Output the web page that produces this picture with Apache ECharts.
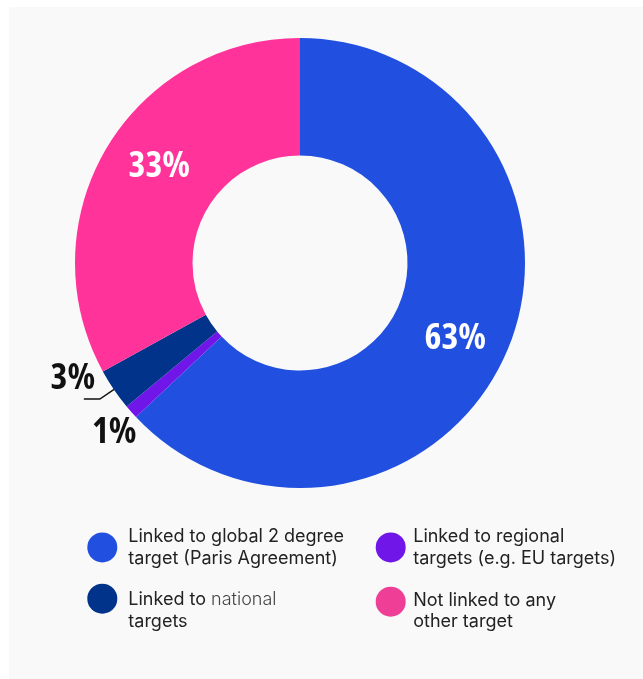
<!DOCTYPE html>
<html>
<head>
<meta charset="utf-8">
<script src="https://cdn.jsdelivr.net/npm/echarts@6/dist/echarts.min.js"></script>
<style>
  html, body { margin: 0; padding: 0; background: #ffffff; }
  #chart { position: absolute; left: 9px; top: 7px; width: 634px; height: 672px; background: #f9f9f9; }
</style>
</head>
<body>
<div id="chart"></div>
<script>
// Target linkage of the reported climate goals (share of companies, %)
const categories = [
  'Linked to global 2 degree target (Paris Agreement)',
  'Linked to regional targets (e.g. EU targets)',
  'Linked to national targets',
  'Not linked to any other target'
];
const shares = [63, 1, 3, 33];
const sliceColors = ['#2150e0', '#7016e8', '#003389', '#ff3399'];

// Legend text, split into the two lines shown next to each dot
const legendLines = [
  '{t|Linked to global 2 degree}\n{t|target (Paris Agreement)}',
  '{t|Linked to regional}\n{t|targets (e.g. EU targets)}',
  '{t|Linked to }{l|national}\n{t|targets}',
  '{t|Not linked to any}\n{t|other target}'
];

const legendRich = {
  t: { fontFamily: 'Inter, Roboto, sans-serif', fontSize: 18, color: '#222222', lineHeight: 21.5 },
  l: { fontFamily: 'Inter, Roboto, sans-serif', fontSize: 18, fontWeight: 300, color: '#444444', lineHeight: 21.5 }
};

const chart = echarts.init(document.getElementById('chart'));

// condensed bold face for the percentage figures
const pctFont = "'Open Sans', 'Roboto Condensed', sans-serif";
const pctWeight = 'bold condensed';

function legendFormatter(name) {
  return legendLines[categories.indexOf(name)];
}

// one legend block per entry: category index, left, top, icon box width, space above the text
function makeLegend(idx, left, top, iconBox, padTop, iconColor) {
  const entry = { name: categories[idx] };
  if (iconColor) entry.itemStyle = { color: iconColor };
  return {
    data: [entry],
    orient: 'vertical',
    left: left,
    top: top,
    padding: 0,
    itemWidth: iconBox,
    itemHeight: 30,
    icon: 'circle',
    selectedMode: false,
    formatter: legendFormatter,
    textStyle: { rich: legendRich, padding: [padTop, 0, 0, 0] }
  };
}

chart.setOption({
  backgroundColor: 'transparent',
  animation: false,
  color: sliceColors,
  legend: [
    makeLegend(0, 78.3, 520.7, 42, 0),
    makeLegend(1, 366.7, 520.7, 35, 0),
    makeLegend(2, 78.3, 576.7, 42, 23.6),
    makeLegend(3, 366.7, 579.7, 35, 19.1, '#ee3e95')
  ],
  series: [{
    type: 'pie',
    center: [291, 256],
    radius: [107.5, 225],
    startAngle: 90,
    clockwise: true,
    avoidLabelOverlap: false,
    label: {
      show: true,
      position: 'inside',
      formatter: '{c}%',
      color: '#ffffff',
      fontFamily: pctFont,
      fontWeight: pctWeight,
      fontSize: 36
    },
    labelLine: { show: false },
    emphasis: { disabled: true },
    data: shares.map(function (v, i) {
      const item = { name: categories[i], value: v };
      if (i === 1 || i === 2) {
        item.label = { position: 'outside', color: '#111111' };
        item.labelLine = {
          show: true,
          length: 17,
          length2: 16,
          smooth: false,
          lineStyle: { color: '#111111', width: 1.5, opacity: i === 2 ? 1 : 0 }
        };
      }
      return item;
    }),
    labelLayout: function (p) {
      const pts = p.labelLinePoints;
      if (p.dataIndex === 0) return { dx: 0, dy: 9 };
      if (p.dataIndex === 3) return { dx: 5, dy: -10 };
      if (p.dataIndex === 2 && pts) {
        const a = pts[0], b = pts[1], c = pts[2];
        const ux = a[0] - b[0], uy = a[1] - b[1];
        const len = Math.hypot(ux, uy) || 1;
        const start = [a[0] + ux / len * 10, a[1] + uy / len * 10];
        return {
          x: c[0] - 11, y: c[1] - 20, align: 'center', verticalAlign: 'middle',
          labelLinePoints: [start, b, c]
        };
      }
      if (p.dataIndex === 1 && pts) {
        return { x: pts[0][0] - 17, y: pts[0][1] + 21, align: 'center', verticalAlign: 'middle' };
      }
    }
  }]
});
</script>
</body>
</html>
